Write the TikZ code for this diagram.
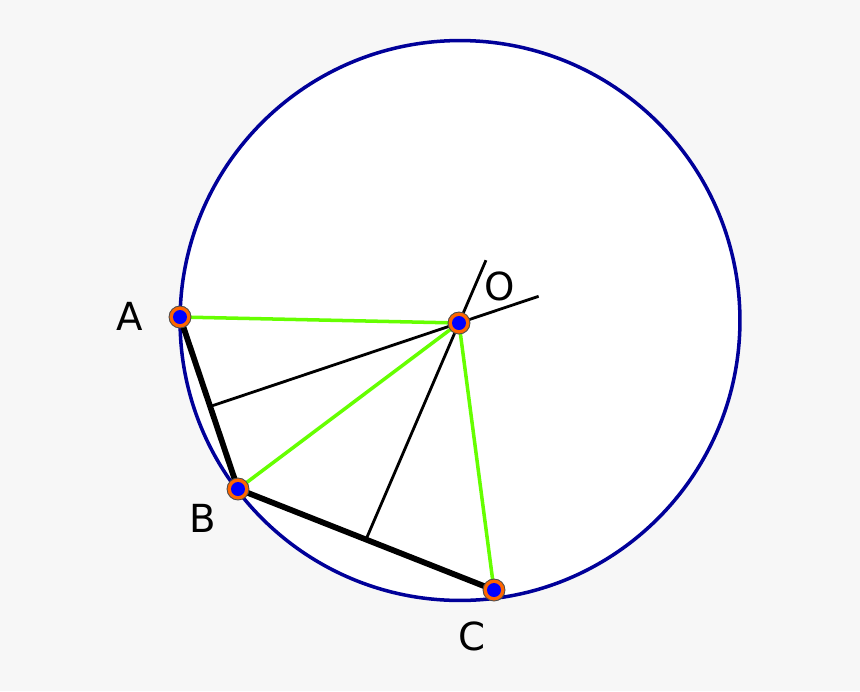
\documentclass[tikz,border=0pt]{standalone}
\usepackage{fontspec}
\setmainfont{DejaVu Sans}
\usetikzlibrary{calc}
\definecolor{bgray}{HTML}{F7F7F7}
\definecolor{cblue}{HTML}{000099}
\definecolor{sgreen}{HTML}{66FF00}
\definecolor{porange}{HTML}{FF6600}
\tikzset{
  pt/.style={circle, draw=black!70, line width=0.5pt, fill=porange, minimum size=0.44cm, inner sep=0pt,
    path picture={\fill[blue] (path picture bounding box.center) circle (0.14cm);}},
  lbl/.style={font=\fontsize{22}{26}\selectfont},
  radius line/.style={sgreen, line width=2pt},
  side/.style={black, line width=3.3pt},
  bisector/.style={black, line width=1.6pt}
}
\begin{document}
\begin{tikzpicture}[x=0.02cm, y=-0.02cm]
  \fill[bgray] (0,0) rectangle (860,691);
  \useasboundingbox (0,0) rectangle (860,691);
  \draw[cblue, fill=white, line width=2pt] (460,320.5) circle (5.6cm);
  \coordinate (A) at (180,317);
  \coordinate (B) at (238,489);
  \coordinate (C) at (494,590);
  \coordinate (O) at (459,323);
  \coordinate (M1) at ($(A)!0.52!(B)$);
  \coordinate (M2) at ($(B)!0.5!(C)$);
  \coordinate (E1) at ($(M1)!1.32!(O)$);
  \coordinate (E2) at ($(M2)!1.29!(O)$);
  % radii
  \draw[radius line] (A) -- (O);
  \draw[radius line] (B) -- (O);
  \draw[radius line] (C) -- (O);
  % bisectors
  \draw[bisector] (M1) -- (E1);
  \draw[bisector] (M2) -- (E2);
  % chords
  \draw[side, line cap=round] (A) -- (B) -- (C);
  \node[pt] (pA) at (A) {};
  \node[pt] (pB) at (B) {};
  \node[pt] (pC) at (C) {};
  \node[pt] (pO) at (O) {};
  \node[lbl] (lA) at (130,316) {A};
  \node[lbl] (lB) at (203,518) {B};
  \node[lbl] (lC) at (472,636) {C};
  \node[lbl] (lO) at (500,286) {O};
\end{tikzpicture}
\end{document}
